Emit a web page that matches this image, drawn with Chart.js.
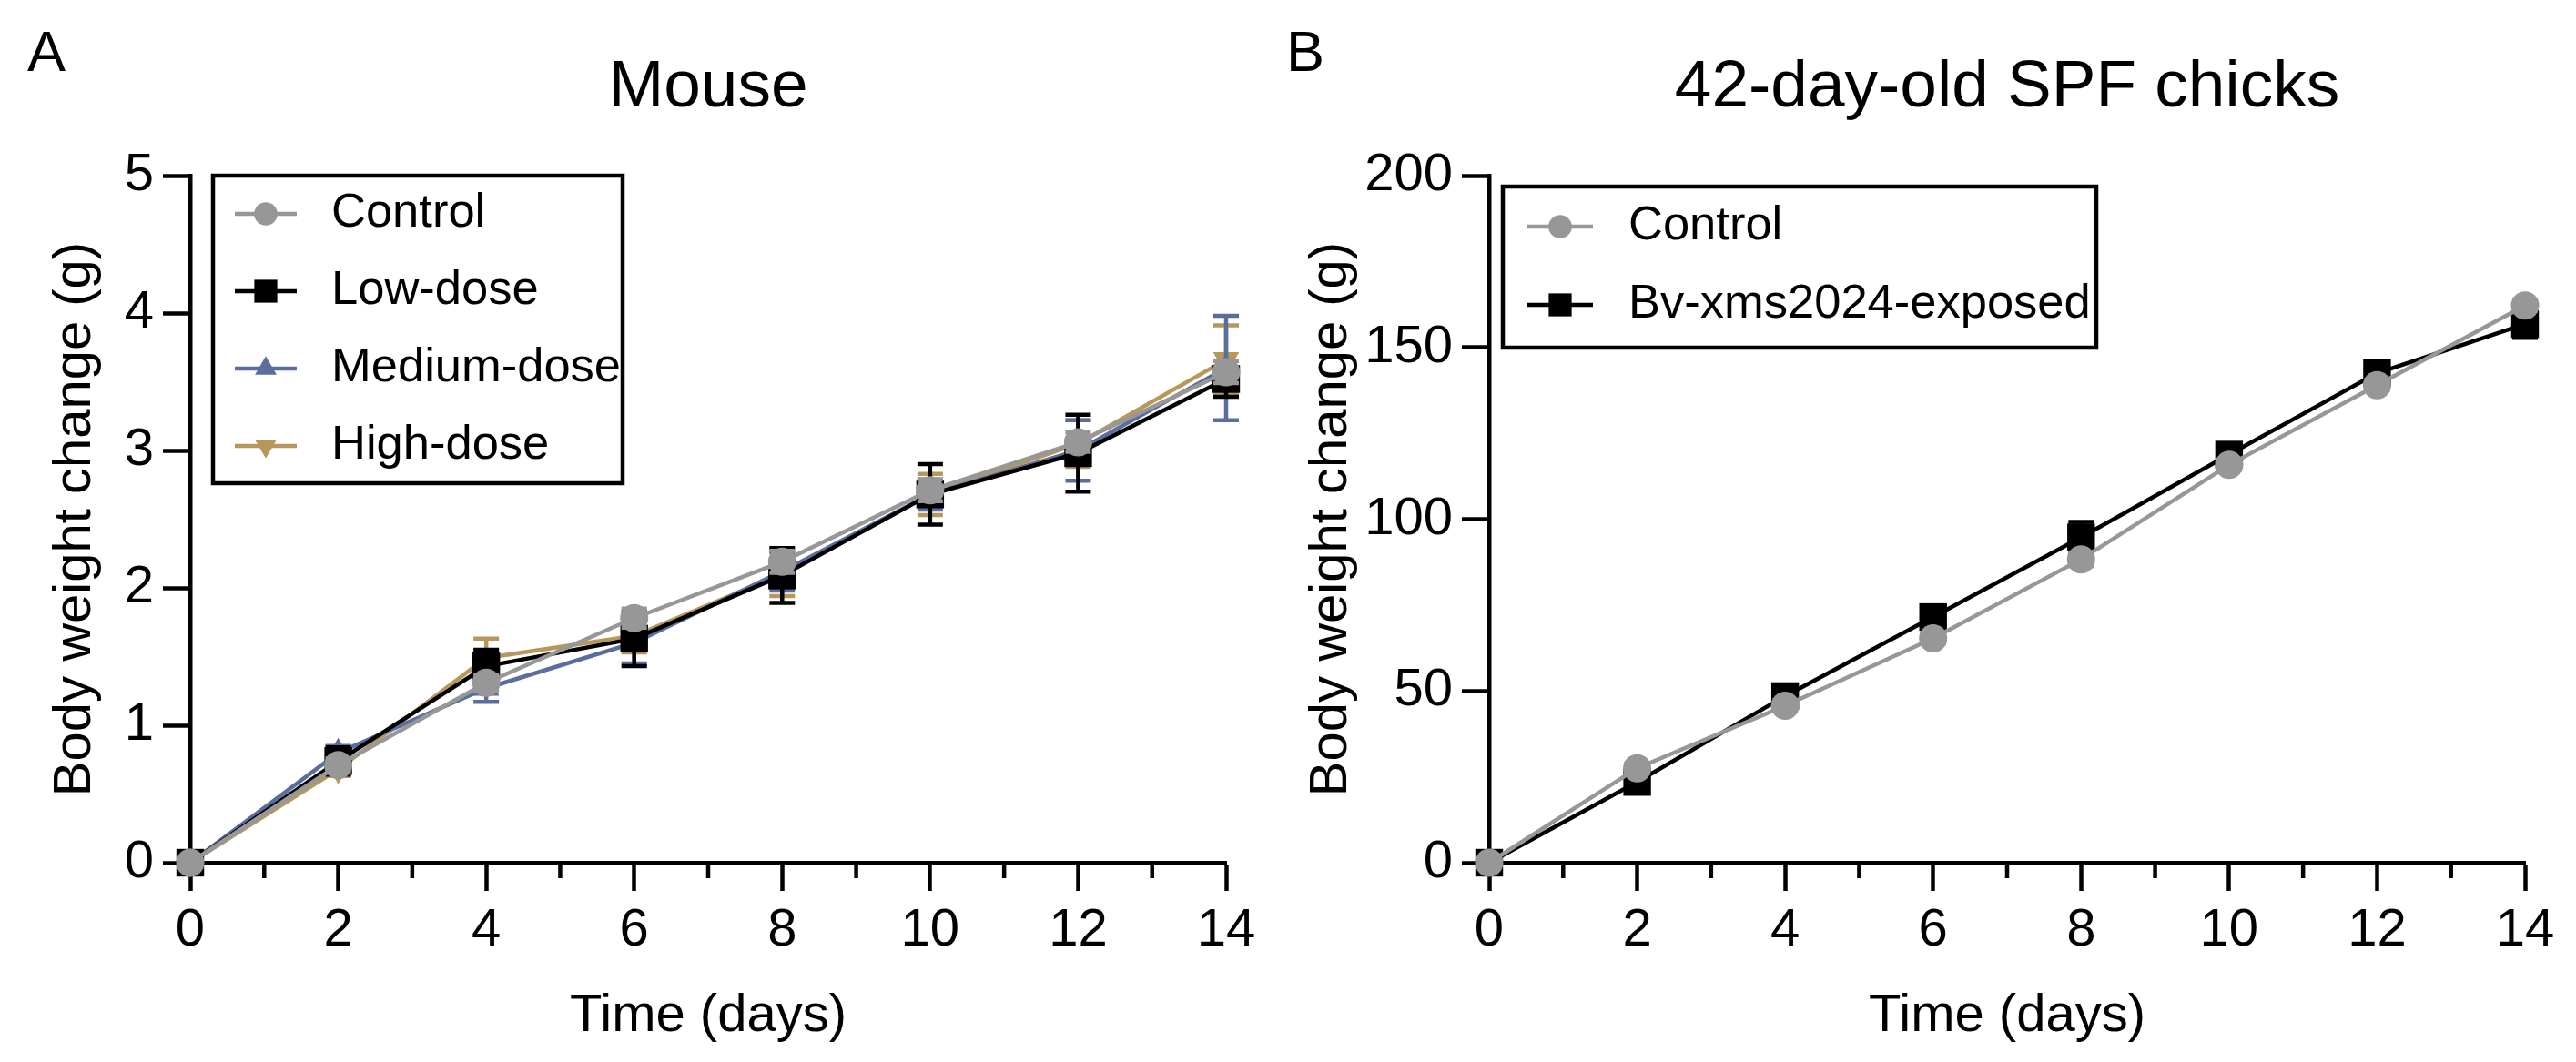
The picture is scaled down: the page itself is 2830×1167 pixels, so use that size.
<!DOCTYPE html>
<html>
<head>
<meta charset="utf-8">
<title>Body weight change</title>
<script src="https://cdn.jsdelivr.net/npm/chart.js@4.4.1/dist/chart.umd.min.js"></script>
<style>
    html, body { margin: 0; padding: 0; background: #fff; }
    body { width: 2830px; height: 1167px; position: relative; overflow: hidden; }
    canvas { position: absolute; top: 0; }
    #mouseChart { left: 0; }
    #chickChart { left: 1400px; }
</style>
</head>
<body>
<canvas id="mouseChart" width="1415" height="1167"></canvas>
<canvas id="chickChart" width="1430" height="1167"></canvas>
<script>
// Time points (days)
const days = [0, 2, 4, 6, 8, 10, 12, 14];

// Panel A - mouse, body weight change (g), mean and SD
const mouseControl = [0, 0.71, 1.31, 1.78, 2.19, 2.71, 3.06, 3.57];
const mouseControlSd = [0, 0.05, 0.06, 0.07, 0.08, 0.08, 0.07, 0.08];
const mouseLow = [0, 0.74, 1.43, 1.63, 2.09, 2.68, 2.98, 3.52];
const mouseLowSd = [0, 0.10, 0.12, 0.20, 0.20, 0.22, 0.28, 0.13];
const mouseMedium = [0, 0.80, 1.27, 1.60, 2.12, 2.68, 3.00, 3.60];
const mouseMediumSd = [0, 0.05, 0.10, 0.15, 0.14, 0.11, 0.22, 0.38];
const mouseHigh = [0, 0.68, 1.49, 1.65, 2.10, 2.68, 3.05, 3.66];
const mouseHighSd = [0, 0.05, 0.14, 0.12, 0.16, 0.15, 0.17, 0.25];

// Panel B - chicks, body weight change (g), mean and SD
const chickControl = [0, 27.5, 45.7, 65.3, 88.3, 115.8, 139.0, 162.2];
const chickControlSd = [0, 1.5, 1.5, 1.5, 2.0, 1.5, 1.5, 1.5];
const chickExposed = [0, 23.5, 48.5, 71.5, 94.7, 118.8, 142.5, 156.8];
const chickExposedSd = [0, 2.0, 1.5, 3.0, 4.5, 2.0, 3.5, 4.0];

// Axis ticks
const xTicks = [0, 2, 4, 6, 8, 10, 12, 14];
const mouseYTicks = [0, 1, 2, 3, 4, 5];
const chickYTicks = [0, 50, 100, 150, 200];

const GRAY = "#979797";
const BLACK = "#000000";
const BLUE = "#5a6d9e";
const TAN = "#b8985a";

Chart.defaults.font.family = "'Liberation Sans', Arial, Helvetica, sans-serif";
Chart.defaults.color = "#000";

function toPoints(values) {
    return values.map((v, i) => ({ x: days[i], y: v }));
}

function series(label, values, sd, color, style, radius, rotation) {
    return {
        label: label,
        data: toPoints(values),
        errors: sd,
        borderColor: color,
        backgroundColor: color,
        borderWidth: 4.5,
        pointStyle: style,
        pointRadius: radius,
        pointRotation: rotation || 0,
        pointBorderWidth: 0,
        pointBackgroundColor: color,
        clip: false,
        tension: 0,
    };
}

// error bars drawn just before each dataset, so stacking follows the series order
const errorBarPlugin = {
    id: "errorBars",
    beforeDatasetDraw(chart, args) {
        const ds = chart.data.datasets[args.index];
        if (!ds.errors) return;
        const yScale = chart.scales.y;
        const ctx = chart.ctx;
        ctx.save();
        ctx.strokeStyle = ds.borderColor;
        ctx.lineWidth = 4.5;
        args.meta.data.forEach((pt, i) => {
            const err = ds.errors[i];
            if (!err) return;
            const v = ds.data[i].y;
            const top = yScale.getPixelForValue(v + err);
            const bottom = yScale.getPixelForValue(v - err);
            ctx.beginPath();
            ctx.moveTo(pt.x, top);
            ctx.lineTo(pt.x, bottom);
            ctx.moveTo(pt.x - 14, top);
            ctx.lineTo(pt.x + 14, top);
            ctx.moveTo(pt.x - 14, bottom);
            ctx.lineTo(pt.x + 14, bottom);
            ctx.stroke();
        });
        ctx.restore();
    },
};

// short minor ticks on the odd days
const minorTickPlugin = {
    id: "minorTicks",
    afterDraw(chart) {
        const x = chart.scales.x;
        const ctx = chart.ctx;
        const base = chart.chartArea.bottom;
        ctx.save();
        ctx.strokeStyle = "#000";
        ctx.lineWidth = 4.5;
        for (let d = 1; d < 14; d += 2) {
            const px = x.getPixelForValue(d);
            ctx.beginPath();
            ctx.moveTo(px, base);
            ctx.lineTo(px, base + 17);
            ctx.stroke();
        }
        ctx.restore();
    },
};

// framed legend inside the plot + panel letter
const boxLegendPlugin = {
    id: "boxLegend",
    afterDraw(chart, args, opts) {
        const ctx = chart.ctx;
        ctx.save();
        ctx.lineWidth = 4.5;
        ctx.strokeStyle = "#000";
        ctx.strokeRect(opts.x, opts.y, opts.w, opts.h);
        ctx.font = "52.5px 'Liberation Sans', Arial, sans-serif";
        ctx.textBaseline = "middle";
        chart.data.datasets.forEach((ds, i) => {
            const cy = opts.firstRow + i * opts.rowGap;
            ctx.strokeStyle = ds.borderColor;
            ctx.fillStyle = ds.backgroundColor;
            ctx.lineWidth = 4.5;
            ctx.beginPath();
            ctx.moveTo(opts.lineStart, cy);
            ctx.lineTo(opts.lineEnd, cy);
            ctx.stroke();
            Chart.helpers.drawPoint(ctx, {
                pointStyle: ds.pointStyle,
                radius: ds.pointRadius * 0.83,
                rotation: ds.pointRotation,
                borderWidth: 0,
            }, (opts.lineStart + opts.lineEnd) / 2, cy);
            ctx.fillStyle = "#000";
            ctx.fillText(ds.label, opts.textX, cy);
        });
        ctx.font = "63px 'Liberation Sans', Arial, sans-serif";
        ctx.textBaseline = "alphabetic";
        ctx.fillStyle = "#000";
        ctx.fillText(opts.panel, opts.panelX, 78);
        ctx.restore();
    },
};

function makeOptions(cfg) {
    return {
        responsive: false,
        animation: false,
        devicePixelRatio: 1,
        layout: { padding: { left: 0, right: cfg.rightPad, top: 0, bottom: 0 } },
        plugins: {
            legend: { display: false },
            tooltip: { enabled: false },
            title: {
                display: true,
                text: cfg.title,
                fullSize: false,
                color: "#000",
                font: { size: 73, weight: "normal", lineHeight: 1 },
                padding: { top: 60, bottom: 60 },
            },
            boxLegend: cfg.legend,
        },
        scales: {
            x: {
                type: "linear",
                min: 0,
                max: 14,
                afterBuildTicks: (scale) => {
                    scale.ticks = xTicks.map((v) => ({ value: v }));
                },
                afterFit: (scale) => { scale.height = 219; },
                ticks: { font: { size: 58 }, color: "#000", padding: 9 },
                grid: {
                    drawOnChartArea: false,
                    tickLength: 31,
                    tickWidth: 4.5,
                    tickColor: "#000",
                },
                border: { display: true, width: 4.5, color: "#000" },
                title: {
                    display: true,
                    text: "Time (days)",
                    color: "#000",
                    font: { size: 58, lineHeight: 1 },
                    padding: { top: 0, bottom: 21 },
                },
            },
            y: {
                min: 0,
                max: cfg.yTicks[cfg.yTicks.length - 1],
                afterBuildTicks: (scale) => {
                    scale.ticks = cfg.yTicks.map((v) => ({ value: v }));
                },
                afterFit: (scale) => { scale.width = cfg.yWidth; },
                ticks: { font: { size: 58 }, color: "#000", padding: 10 },
                grid: {
                    drawOnChartArea: false,
                    tickLength: 30,
                    tickWidth: 4.5,
                    tickColor: "#000",
                },
                border: { display: true, width: 4.5, color: "#000" },
                title: {
                    display: true,
                    text: "Body weight change (g)",
                    color: "#000",
                    font: { size: 58, lineHeight: 1 },
                    padding: { top: cfg.yTitlePad, bottom: 0 },
                },
            },
        },
    };
}

const plugins = [errorBarPlugin, minorTickPlugin, boxLegendPlugin];

new Chart(document.getElementById("mouseChart"), {
    type: "line",
    data: {
        datasets: [
            series("Control", mouseControl, mouseControlSd, GRAY, "circle", 15.5),
            series("Low-dose", mouseLow, mouseLowSd, BLACK, "rect", 21.5),
            series("Medium-dose", mouseMedium, mouseMediumSd, BLUE, "triangle", 16.5),
            series("High-dose", mouseHigh, mouseHighSd, TAN, "triangle", 16.5, 180),
        ],
    },
    options: makeOptions({
        title: "Mouse",
        rightPad: 68,
        yWidth: 209,
        yTitlePad: 54,
        yTicks: mouseYTicks,
        legend: {
            x: 234, y: 193, w: 450, h: 338,
            firstRow: 235, rowGap: 85,
            lineStart: 258, lineEnd: 326, textX: 364,
            panel: "A", panelX: 30,
        },
    }),
    plugins: plugins,
});

new Chart(document.getElementById("chickChart"), {
    type: "line",
    data: {
        datasets: [
            series("Control", chickControl, chickControlSd, GRAY, "circle", 15.5),
            series("Bv-xms2024-exposed", chickExposed, chickExposedSd, BLACK, "rect", 21.5),
        ],
    },
    options: makeOptions({
        title: "42-day-old SPF chicks",
        rightPad: 56,
        yWidth: 236,
        yTitlePad: 34,
        yTicks: chickYTicks,
        legend: {
            x: 251, y: 205, w: 652, h: 177,
            firstRow: 249, rowGap: 86,
            lineStart: 278, lineEnd: 350, textX: 389,
            panel: "B", panelX: 13,
        },
    }),
    plugins: plugins,
});
</script>
</body>
</html>
